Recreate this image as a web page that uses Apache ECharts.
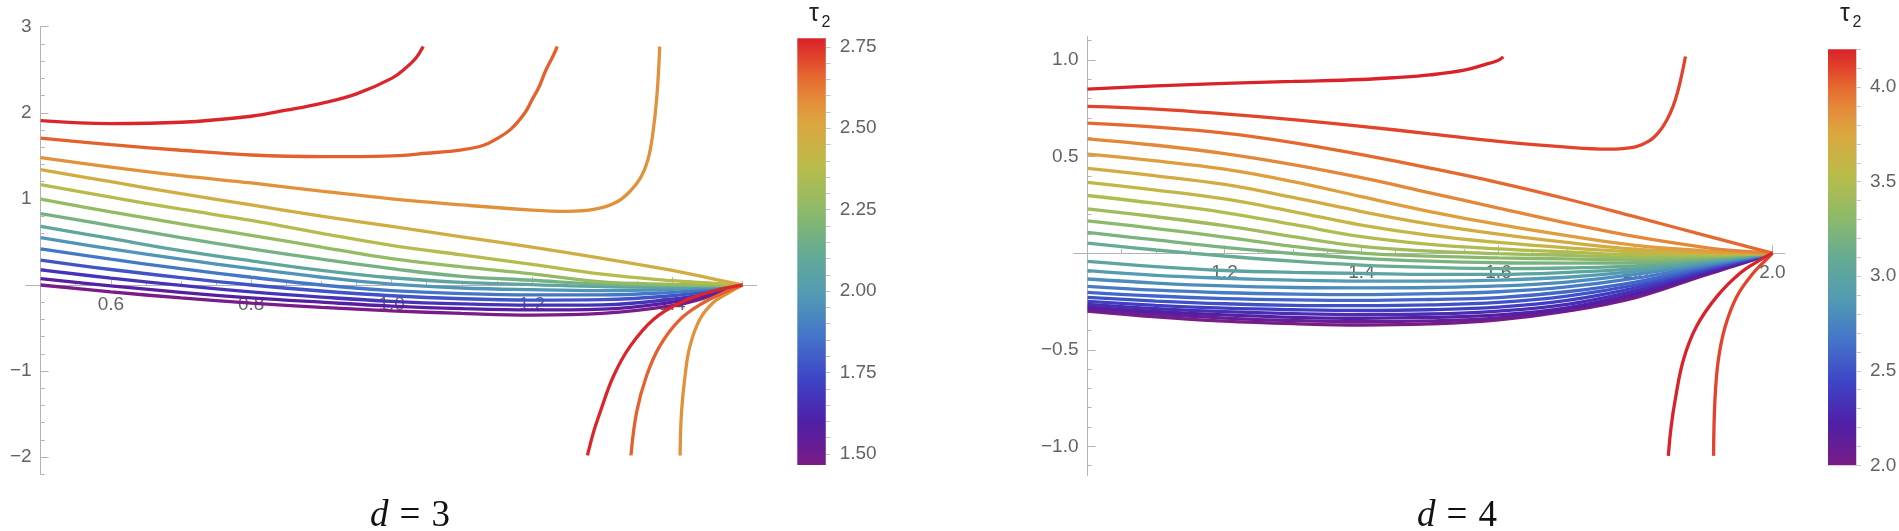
<!DOCTYPE html>
<html>
<head>
<meta charset="utf-8">
<script src="https://cdn.jsdelivr.net/npm/echarts@6/dist/echarts.min.js"></script>
<style>
  html, body { margin: 0; padding: 0; background: #fff; }
  #chart { width: 1899px; height: 531px; }
</style>
</head>
<body>
<div id="chart"></div>
<script>
// ---- d = 3 panel ----
const xLeft = [0.5, 0.6, 0.7, 0.8, 0.9, 1.0, 1.1, 1.2, 1.3, 1.4, 1.45, 1.5]
const tauLeft = [1.47, 1.57, 1.67, 1.77, 1.87, 1.97, 2.07, 2.17, 2.27, 2.37, 2.47, 2.57, 2.67, 2.77]
const cbarLeftRange = [1.466, 2.776]

// curves that run into (1.5, 0), one per tau
const yL147 = [0.0, -0.08, -0.15, -0.21, -0.26, -0.30, -0.33, -0.35, -0.33, -0.24, -0.14, 0]
const yL157 = [0.075, -0.01, -0.085, -0.15, -0.20, -0.245, -0.275, -0.29, -0.28, -0.20, -0.115, 0]
const yL167 = [0.176, 0.08, -0.005, -0.08, -0.14, -0.19, -0.22, -0.235, -0.23, -0.165, -0.095, 0]
const yL177 = [0.29, 0.18, 0.085, 0.0, -0.07, -0.125, -0.16, -0.175, -0.17, -0.125, -0.07, 0]
const yL187 = [0.42, 0.30, 0.19, 0.09, 0.0, -0.065, -0.10, -0.115, -0.115, -0.085, -0.05, 0]
const yL197 = [0.55, 0.42, 0.30, 0.19, 0.09, 0.01, -0.035, -0.055, -0.065, -0.05, -0.03, 0]
const yL207 = [0.68, 0.54, 0.40, 0.28, 0.17, 0.084, 0.03, 0.005, -0.02, -0.025, -0.015, 0]
const yL217 = [0.83, 0.69, 0.55, 0.42, 0.30, 0.19, 0.10, 0.055, 0.01, -0.005, -0.005, 0]
const yL227 = [0.996, 0.85, 0.71, 0.576, 0.44, 0.305, 0.21, 0.13, 0.035, 0.008, 0.002, 0]
const yL237 = [1.165, 1.02, 0.88, 0.75, 0.60, 0.46, 0.35, 0.24, 0.125, 0.05, 0.025, 0]
const yL247 = [1.34, 1.20, 1.06, 0.93, 0.80, 0.68, 0.56, 0.44, 0.31, 0.17, 0.085, 0]

// the three top curves blow up, then come back from below
const xL257 = [0.5, 0.6, 0.7, 0.8, 0.9, 1.0, 1.1, 1.2, 1.25, 1.29, 1.32, 1.34, 1.355, 1.365, 1.372, 1.378, 1.382]
const yL257 = [1.48, 1.37, 1.27, 1.185, 1.09, 1.0, 0.93, 0.87, 0.855, 0.88, 0.96, 1.09, 1.25, 1.45, 1.75, 2.2, 2.77]
const xL267 = [0.5, 0.6, 0.7, 0.8, 0.9, 1.0, 1.05, 1.1, 1.13, 1.15, 1.17, 1.19, 1.2, 1.21, 1.22, 1.23, 1.236]
const yL267 = [1.706, 1.63, 1.565, 1.51, 1.49, 1.50, 1.53, 1.57, 1.62, 1.70, 1.81, 2.0, 2.15, 2.3, 2.5, 2.66, 2.77]
const xL277 = [0.5, 0.6, 0.7, 0.8, 0.85, 0.9, 0.95, 1.0, 1.02, 1.035, 1.045]
const yL277 = [1.91, 1.875, 1.89, 1.96, 2.03, 2.11, 2.22, 2.40, 2.52, 2.64, 2.77]
const xL257b = [1.411, 1.413, 1.418, 1.425, 1.439, 1.458, 1.48, 1.5]
const yL257b = [-1.98, -1.48, -1.06, -0.71, -0.40, -0.206, -0.09, 0]
const xL267b = [1.341, 1.349, 1.363, 1.382, 1.411, 1.444, 1.473, 1.5]
const yL267b = [-1.98, -1.48, -1.06, -0.71, -0.40, -0.206, -0.09, 0]
const xL277b = [1.279, 1.288, 1.297, 1.316, 1.34, 1.373, 1.411, 1.458, 1.5]
const yL277b = [-1.98, -1.7, -1.48, -1.06, -0.71, -0.40, -0.206, -0.07, 0]

const leftXMajor = [0.6, 0.8, 1.0, 1.2, 1.4]
const leftXMinor = [0.55, 0.65, 0.7, 0.75, 0.85, 0.9, 0.95, 1.05, 1.1, 1.15, 1.25, 1.3, 1.35, 1.45, 1.5]
const leftYMajor = [-2, -1, 1, 2, 3]
const leftYMinor = [-2.2, -1.8, -1.6, -1.4, -1.2, -0.8, -0.6, -0.4, -0.2, 0.2, 0.4, 0.6, 0.8, 1.2, 1.4, 1.6, 1.8, 2.2, 2.4, 2.6, 2.8]
const cbarLeftLabels = [1.5, 1.75, 2.0, 2.25, 2.5, 2.75]
const cbarLeftTicks = [1.5, 1.55, 1.6, 1.65, 1.7, 1.75, 1.8, 1.85, 1.9, 1.95, 2.0, 2.05, 2.1, 2.15, 2.2, 2.25, 2.3, 2.35, 2.4, 2.45, 2.5, 2.55, 2.6, 2.65, 2.7, 2.75]

// ---- d = 4 panel ----
const xRight = [1.0, 1.1, 1.2, 1.3, 1.4, 1.5, 1.6, 1.7, 1.8, 1.9, 1.95, 2.0]
const tauRight = [2.0, 2.1, 2.2, 2.3, 2.4, 2.5, 2.6, 2.7, 2.8, 2.9, 3.0, 3.1, 3.2, 3.3, 3.4, 3.5, 3.6, 3.7, 3.8, 3.9, 4.0, 4.1, 4.2]
const cbarRightRange = [2.0, 4.2]

const yR20 = [-0.30, -0.33, -0.352, -0.365, -0.372, -0.366, -0.345, -0.30, -0.23, -0.115, -0.06, 0]
const yR21 = [-0.29, -0.316, -0.336, -0.349, -0.355, -0.351, -0.335, -0.295, -0.22, -0.11, -0.056, 0]
const yR22 = [-0.278, -0.302, -0.32, -0.332, -0.337, -0.333, -0.32, -0.283, -0.21, -0.104, -0.053, 0]
const yR23 = [-0.265, -0.287, -0.303, -0.313, -0.318, -0.315, -0.30, -0.265, -0.195, -0.097, -0.05, 0]
const yR24 = [-0.25, -0.27, -0.285, -0.293, -0.297, -0.293, -0.28, -0.245, -0.18, -0.09, -0.046, 0]
const yR25 = [-0.229, -0.248, -0.262, -0.27, -0.272, -0.268, -0.255, -0.222, -0.165, -0.082, -0.042, 0]
const yR26 = [-0.203, -0.222, -0.235, -0.242, -0.245, -0.24, -0.23, -0.2, -0.15, -0.074, -0.038, 0]
const yR27 = [-0.172, -0.192, -0.205, -0.212, -0.215, -0.21, -0.2, -0.175, -0.13, -0.066, -0.034, 0]
const yR28 = [-0.134, -0.155, -0.17, -0.178, -0.18, -0.178, -0.17, -0.15, -0.11, -0.058, -0.03, 0]
const yR29 = [-0.091, -0.115, -0.13, -0.14, -0.145, -0.145, -0.14, -0.125, -0.095, -0.05, -0.026, 0]
const yR30 = [-0.043, -0.07, -0.09, -0.10, -0.105, -0.11, -0.11, -0.10, -0.08, -0.043, -0.022, 0]
const yR31 = [0.052, 0.016, -0.015, -0.042, -0.062, -0.074, -0.08, -0.077, -0.066, -0.035, -0.018, 0]
const yR32 = [0.107, 0.068, 0.03, -0.002, -0.027, -0.042, -0.05, -0.052, -0.05, -0.028, -0.014, 0]
const yR33 = [0.167, 0.127, 0.083, 0.035, 0.0, -0.016, -0.025, -0.03, -0.034, -0.02, -0.01, 0]
const yR34 = [0.229, 0.188, 0.142, 0.085, 0.035, 0.01, -0.003, -0.012, -0.02, -0.014, -0.007, 0]
const yR35 = [0.298, 0.257, 0.21, 0.148, 0.085, 0.045, 0.022, 0.006, -0.008, -0.008, -0.004, 0]
const yR36 = [0.366, 0.326, 0.28, 0.215, 0.145, 0.092, 0.055, 0.027, 0.006, -0.002, -0.002, 0]
const yR37 = [0.438, 0.40, 0.355, 0.288, 0.215, 0.15, 0.098, 0.055, 0.02, 0.005, 0.001, 0]
const yR38 = [0.512, 0.477, 0.434, 0.37, 0.292, 0.215, 0.148, 0.09, 0.04, 0.012, 0.004, 0]
const yR39 = [0.591, 0.558, 0.515, 0.458, 0.39, 0.312, 0.233, 0.155, 0.085, 0.03, 0.011, 0]
const yR40 = [0.672, 0.652, 0.621, 0.572, 0.509, 0.44, 0.365, 0.28, 0.187, 0.093, 0.046, 0]

const xR41 = [1.0, 1.1, 1.2, 1.3, 1.4, 1.5, 1.6, 1.7, 1.76, 1.8, 1.82, 1.835, 1.846, 1.855, 1.862, 1.868, 1.873]
const yR41 = [0.759, 0.745, 0.72, 0.69, 0.656, 0.617, 0.578, 0.548, 0.538, 0.55, 0.58, 0.63, 0.69, 0.76, 0.84, 0.93, 1.017]
const xR42 = [1.0, 1.1, 1.2, 1.3, 1.4, 1.45, 1.5, 1.55, 1.58, 1.6, 1.607]
const yR42 = [0.848, 0.865, 0.878, 0.888, 0.898, 0.908, 0.922, 0.946, 0.975, 0.998, 1.015]
const xR41b = [1.914, 1.916, 1.921, 1.931, 1.948, 1.972, 1.992, 2.0]
const yR41b = [-1.049, -0.759, -0.552, -0.38, -0.224, -0.103, -0.03, 0]
const xR42b = [1.848, 1.852, 1.858, 1.870, 1.889, 1.919, 1.953, 1.982, 2.0]
const yR42b = [-1.049, -0.9, -0.759, -0.552, -0.38, -0.224, -0.103, -0.035, 0]

const rightXMajor = [1.2, 1.4, 1.6, 1.8, 2.0]
const rightXMinor = [1.05, 1.1, 1.15, 1.25, 1.3, 1.35, 1.45, 1.5, 1.55, 1.65, 1.7, 1.75, 1.85, 1.9, 1.95]
const rightYMajor = [-1.0, -0.5, 0.5, 1.0]
const rightYMinor = [-1.1, -0.9, -0.8, -0.7, -0.6, -0.4, -0.3, -0.2, -0.1, 0.1, 0.2, 0.3, 0.4, 0.6, 0.7, 0.8, 0.9, 1.1]
const cbarRightLabels = [2.0, 2.5, 3.0, 3.5, 4.0]
const cbarRightTicks = [2.0, 2.1, 2.2, 2.3, 2.4, 2.5, 2.6, 2.7, 2.8, 2.9, 3.0, 3.1, 3.2, 3.3, 3.4, 3.5, 3.6, 3.7, 3.8, 3.9, 4.0, 4.1, 4.2]

// rainbow colour scale (Mathematica-like)
const rainbow = [
  [0.00, '#7a1c86'], [0.10, '#4f1fa6'], [0.20, '#3e44c6'], [0.30, '#4474c9'],
  [0.40, '#529bb4'], [0.50, '#66ab92'], [0.60, '#8fba68'], [0.70, '#b9bc4a'],
  [0.80, '#dca63f'], [0.86, '#e5893a'], [0.91, '#e5682f'], [0.955, '#e1432b'], [1.00, '#d9222a']
]

const hex = c => [1, 3, 5].map(i => parseInt(c.slice(i, i + 2), 16))
const colorAt = f => {
  f = Math.max(0, Math.min(1, f))
  for (let i = 1; i < rainbow.length; i++) {
    if (f <= rainbow[i][0]) {
      const [o0, c0] = rainbow[i - 1]
      const [o1, c1] = rainbow[i]
      const t = (f - o0) / (o1 - o0)
      const a = hex(c0), b = hex(c1)
      return 'rgb(' + a.map((v, k) => Math.round(v + (b[k] - v) * t)).join(',') + ')'
    }
  }
  return rainbow[rainbow.length - 1][1]
}
const gradient = () => new echarts.graphic.LinearGradient(0, 1, 0, 0,
  rainbow.map(([offset, color]) => ({ offset, color })))

const zip = (xs, ys) => xs.map((x, i) => [x, ys[i]])

const curve = (xs, ys, tau, range, axis) => ({
  type: 'line',
  xAxisIndex: axis,
  yAxisIndex: axis,
  data: zip(xs, ys),
  symbol: 'none',
  smooth: 0.4,
  silent: true,
  z: 3,
  lineStyle: { width: 3.3, color: colorAt((tau - range[0]) / (range[1] - range[0])) }
})

const leftFan = [yL147, yL157, yL167, yL177, yL187, yL197, yL207, yL217, yL227, yL237, yL247]
const rightFan = [yR20, yR21, yR22, yR23, yR24, yR25, yR26, yR27, yR28, yR29, yR30,
  yR31, yR32, yR33, yR34, yR35, yR36, yR37, yR38, yR39, yR40]

const series = []
leftFan.forEach((ys, i) => series.push(curve(xLeft, ys, tauLeft[i], cbarLeftRange, 0)))
series.push(curve(xL257, yL257, tauLeft[11], cbarLeftRange, 0))
series.push(curve(xL257b, yL257b, tauLeft[11], cbarLeftRange, 0))
series.push(curve(xL267, yL267, tauLeft[12], cbarLeftRange, 0))
series.push(curve(xL267b, yL267b, tauLeft[12], cbarLeftRange, 0))
series.push(curve(xL277, yL277, tauLeft[13], cbarLeftRange, 0))
series.push(curve(xL277b, yL277b, tauLeft[13], cbarLeftRange, 0))

rightFan.forEach((ys, i) => series.push(curve(xRight, ys, tauRight[i], cbarRightRange, 2)))
series.push(curve(xR41, yR41, tauRight[21], cbarRightRange, 2))
series.push(curve(xR41b, yR41b, tauRight[21], cbarRightRange, 2))
series.push(curve(xR42, yR42, tauRight[22], cbarRightRange, 2))
series.push(curve(xR42b, yR42b, tauRight[22], cbarRightRange, 2))

const colorBar = (axis, range) => ({
  type: 'custom',
  xAxisIndex: axis,
  yAxisIndex: axis,
  silent: true,
  data: [[0, range[0], range[1]]],
  encode: { x: 0, y: [1, 2] },
  renderItem: (params, api) => {
    const lo = api.coord([0, api.value(1)])
    const hi = api.coord([1, api.value(2)])
    return {
      type: 'rect',
      shape: { x: lo[0], y: hi[1], width: hi[0] - lo[0], height: lo[1] - hi[1] },
      style: { fill: gradient() }
    }
  }
})
series.push(colorBar(4, cbarLeftRange))
series.push(colorBar(5, cbarRightRange))

// plot boxes (px) and value ranges; x axis runs a little left of the y axis
const boxL = { left: 25.9, top: 26.7, width: 730.7, height: 447.7 }
const boxR = { left: 1073.8, top: 36.6, width: 711, height: 438.8 }
const rangeLX = [0.479, 1.52], rangeLY = [-2.2, 3.0], originLX = 0.5
const rangeRX = [0.98, 2.018], rangeRY = [-1.15, 1.12], originRX = 1.0
// lift the x axis from the bottom edge up to y = 0
const zeroLift = (box, ry) => -box.height * (0 - ry[0]) / (ry[1] - ry[0])
// shift the y axis from the left edge to the origin x
const originShift = (box, rx, ox) => -box.width * (ox - rx[0]) / (rx[1] - rx[0])

// axes
const axisGray = '#b3b3b3'
const labelFont = { color: '#636363', fontSize: 19, fontFamily: 'Liberation Sans, Arial, sans-serif' }
const signed = d => v => (v < 0 ? '\u2212' : '') + Math.abs(v).toFixed(d)

const majorAxis = (grid, range, ticks, digits, margin) => ({
  type: 'value', gridIndex: grid, min: range[0], max: range[1],
  axisLine: { show: true, onZero: false, lineStyle: { color: axisGray, width: 1 } },
  axisTick: { show: true, inside: true, length: 8, customValues: ticks, lineStyle: { color: axisGray } },
  axisLabel: { show: true, customValues: ticks, formatter: signed(digits), margin, ...labelFont },
  splitLine: { show: false }
})
const minorAxis = (grid, range, ticks) => ({
  type: 'value', gridIndex: grid, min: range[0], max: range[1],
  axisLine: { show: false, onZero: false },
  axisTick: { show: true, inside: true, length: 4, customValues: ticks, lineStyle: { color: axisGray } },
  axisLabel: { show: false },
  splitLine: { show: false }
})
const hiddenAxis = grid => ({ type: 'value', gridIndex: grid, min: 0, max: 1, show: false, splitLine: { show: false } })
const barAxis = (grid, range, labels, ticks, digits) => ({
  type: 'value', gridIndex: grid, position: 'right', min: range[0], max: range[1],
  axisLine: { show: true, onZero: false, lineStyle: { color: '#d0d0d0' } },
  axisTick: { show: true, inside: false, length: 5, customValues: ticks, lineStyle: { color: '#c8c8c8' } },
  axisLabel: { show: true, customValues: labels, formatter: v => v.toFixed(digits), margin: 14, ...labelFont },
  splitLine: { show: false }
})

const gridOf = box => ({ ...box, containLabel: false, outerBoundsMode: 'none' })

const dLabel = (x, n) => ({
  type: 'text', x, y: 535,
  style: {
    text: '{i|d}{e|=}{n|' + n + '}', align: 'center', verticalAlign: 'bottom',
    rich: {
      i: { fontSize: 37, fontStyle: 'italic', fontFamily: 'Liberation Serif', fill: '#111' },
      e: { fontSize: 37, fontFamily: 'Liberation Serif', fill: '#111', padding: [0, 11] },
      n: { fontSize: 37, fontFamily: 'Liberation Serif', fill: '#111' }
    }
  }
})
const tauLabel = x => [
  { type: 'text', x, y: 14, style: { text: '\u03c4', fontSize: 25, fontFamily: 'Liberation Sans', fill: '#222', align: 'center', verticalAlign: 'middle' } },
  { type: 'text', x: x + 12, y: 23, style: { text: '2', fontSize: 16, fontFamily: 'Liberation Sans', fill: '#222', align: 'center', verticalAlign: 'middle' } }
]

const option = {
  animation: false,
  backgroundColor: '#fff',
  grid: [
    gridOf(boxL),
    gridOf(boxR),
    gridOf({ left: 797.3, top: 38.3, width: 28.4, height: 426.7 }),
    gridOf({ left: 1828, top: 49.3, width: 28, height: 416 })
  ],
  xAxis: [
    { ...majorAxis(0, rangeLX, leftXMajor, 1, 10), position: 'bottom', offset: zeroLift(boxL, rangeLY) },
    { ...minorAxis(0, rangeLX, leftXMinor), position: 'bottom', offset: zeroLift(boxL, rangeLY) },
    { ...majorAxis(1, rangeRX, rightXMajor, 1, 10), position: 'bottom', offset: zeroLift(boxR, rangeRY) },
    { ...minorAxis(1, rangeRX, rightXMinor), position: 'bottom', offset: zeroLift(boxR, rangeRY) },
    hiddenAxis(2),
    hiddenAxis(3)
  ],
  yAxis: [
    { ...majorAxis(0, rangeLY, leftYMajor, 0, 9), position: 'left', offset: originShift(boxL, rangeLX, originLX) },
    { ...minorAxis(0, rangeLY, leftYMinor), position: 'left', offset: originShift(boxL, rangeLX, originLX) },
    { ...majorAxis(1, rangeRY, rightYMajor, 1, 9), position: 'left', offset: originShift(boxR, rangeRX, originRX) },
    { ...minorAxis(1, rangeRY, rightYMinor), position: 'left', offset: originShift(boxR, rangeRX, originRX) },
    barAxis(2, cbarLeftRange, cbarLeftLabels, cbarLeftTicks, 2),
    barAxis(3, cbarRightRange, cbarRightLabels, cbarRightTicks, 1)
  ],
  graphic: [
    ...tauLabel(814),
    ...tauLabel(1845),
    dLabel(410, 3),
    dLabel(1457, 4)
  ],
  series
}

const chart = echarts.init(document.getElementById('chart'), null, { renderer: 'canvas' })
chart.setOption(option)
</script>
</body>
</html>
